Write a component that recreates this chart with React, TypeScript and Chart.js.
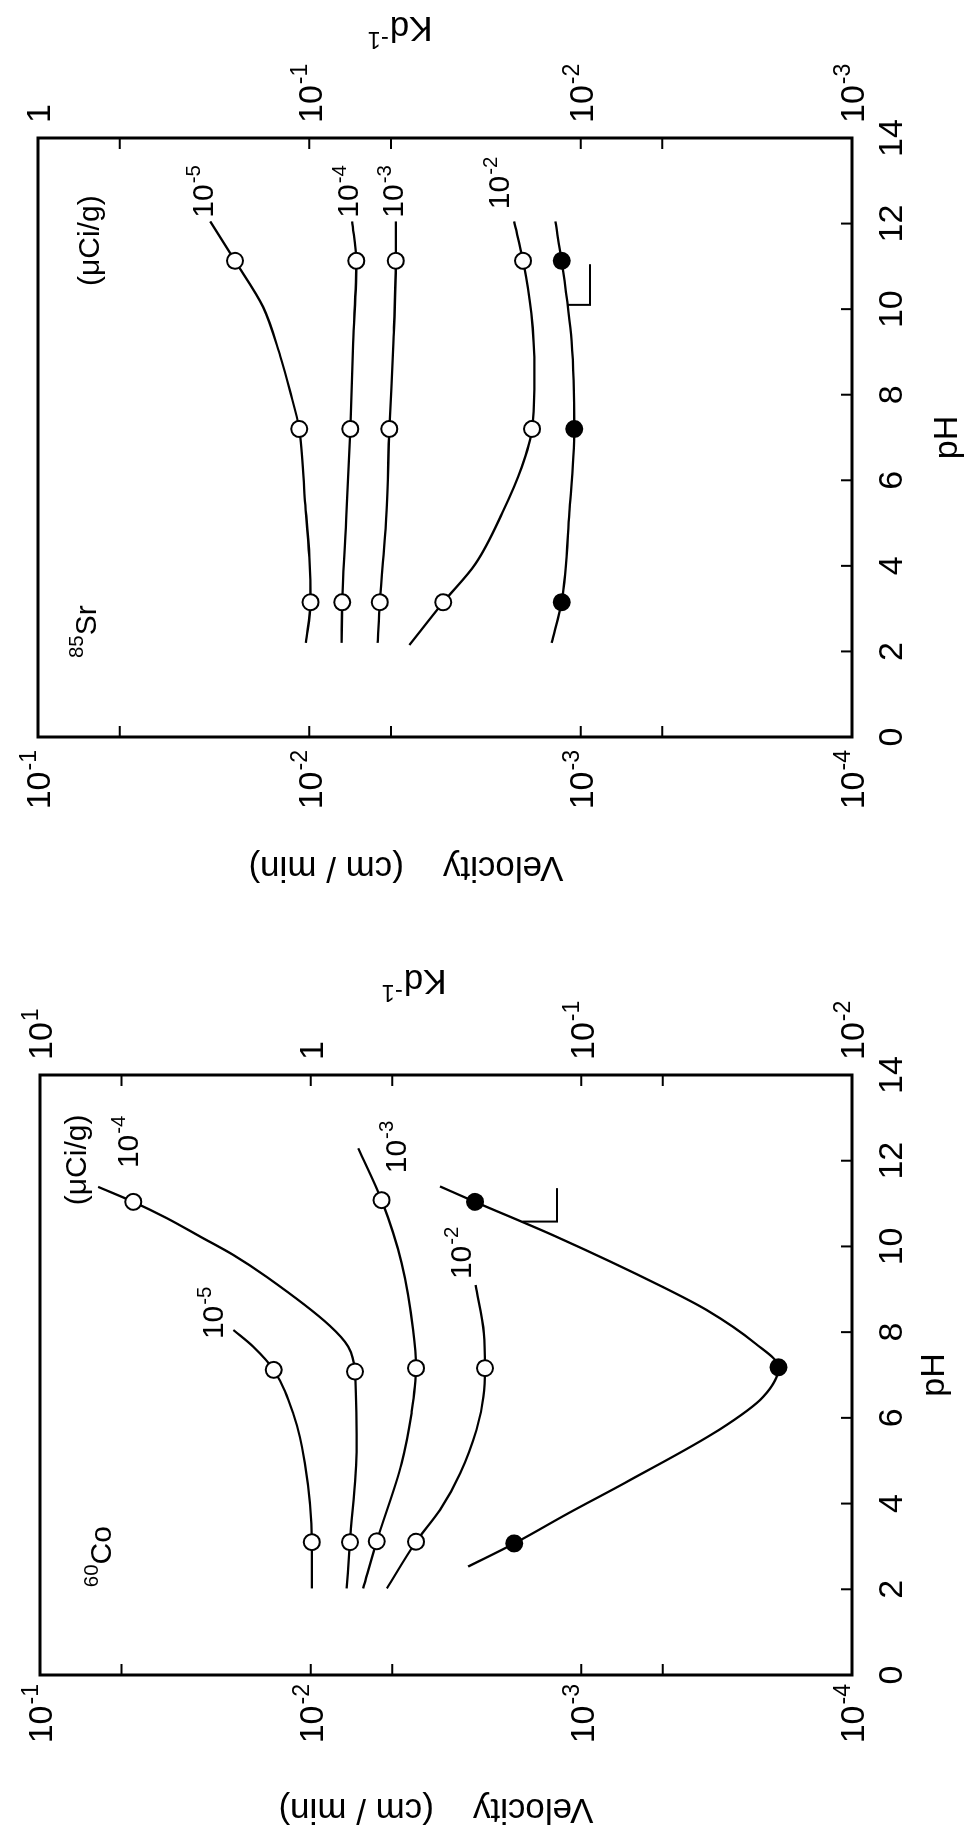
import React, { useEffect, useRef } from 'react';
import { Chart, registerables } from 'chart.js';
Chart.register(...registerables);

const FONT = '"Liberation Sans", Arial, Helvetica, sans-serif';

// ---------- axis ticks ----------
const PH_TICKS = [0, 2, 4, 6, 8, 10, 12, 14];
const VEL_TICKS = [1e-4, 5e-4, 1e-3, 5e-3, 1e-2, 5e-2, 1e-1];
const VEL_LABELS = [1e-4, 1e-3, 1e-2, 1e-1];
const SR_KD_TICKS = [1e-3, 5e-3, 1e-2, 5e-2, 1e-1, 5e-1, 1];
const SR_KD_LABELS = [1e-3, 1e-2, 1e-1, 1];
const CO_KD_TICKS = [1e-2, 5e-2, 1e-1, 5e-1, 1, 5, 10];
const CO_KD_LABELS = [1e-2, 1e-1, 1, 10];

// ---------- 85Sr panel (velocity, cm/min) ----------
const SR_E5_PH = [2.2, 3.15, 4.2, 5.6, 7.2, 8.1, 8.9, 10.05, 11.13, 12.05];
const SR_E5_V = [0.0103, 0.0099, 0.0100, 0.0104, 0.0109, 0.0118, 0.0128, 0.0148, 0.0188, 0.0232];
const SR_E5_MARK_PH = [3.15, 7.2, 11.13];
const SR_E5_MARK_V = [0.0099, 0.0109, 0.0188];

const SR_E4_PH = [2.2, 3.15, 5.2, 7.2, 9.2, 11.13, 12.05];
const SR_E4_V = [0.0076, 0.00757, 0.0073, 0.00706, 0.0069, 0.00671, 0.00695];
const SR_E4_MARK_PH = [3.15, 7.2, 11.13];
const SR_E4_MARK_V = [0.00757, 0.00706, 0.00671];

const SR_E3_PH = [2.2, 3.15, 5.2, 7.2, 9.2, 11.13, 12.05];
const SR_E3_V = [0.0056, 0.0055, 0.0052, 0.00507, 0.0049, 0.0048, 0.0048];
const SR_E3_MARK_PH = [3.15, 7.2, 11.13];
const SR_E3_MARK_V = [0.0055, 0.00507, 0.0048];

const SR_E2_PH = [2.15, 3.15, 4.05, 5.25, 6.3, 7.2, 8.55, 9.9, 11.13, 12.05];
const SR_E2_V = [0.00428, 0.00321, 0.00244, 0.00194, 0.00165, 0.00151, 0.00148, 0.00152, 0.00163, 0.00176];
const SR_E2_MARK_PH = [3.15, 7.2, 11.13];
const SR_E2_MARK_V = [0.00321, 0.00151, 0.00163];

// filled curve, read on the Kd^-1 axis
const SR_KDINV_PH = [2.2, 3.15, 5.25, 7.2, 9.25, 11.13, 12.05];
const SR_KDINV = [0.0128, 0.01175, 0.011, 0.01056, 0.0108, 0.01175, 0.0124];
const SR_KDINV_MARK_PH = [3.15, 7.2, 11.13];
const SR_KDINV_MARK = [0.01175, 0.01056, 0.01175];
const SR_POINTER_PH = [10.1, 10.1, 11.05];
const SR_POINTER_KD = [0.0112, 0.00923, 0.00923];

// ---------- 60Co panel (velocity, cm/min) ----------
const CO_E5_PH = [2.02, 3.1, 4.94, 6.1, 7.12, 7.66, 8.05];
const CO_E5_V = [0.0099, 0.0099, 0.0105, 0.0116, 0.0137, 0.0163, 0.0193];
const CO_E5_MARK_PH = [3.1, 7.12];
const CO_E5_MARK_V = [0.0099, 0.0137];

const CO_E4_PH = [2.02, 3.1, 5.33, 7.08, 7.66, 8.15, 9.29, 9.8, 10.23, 10.66, 11.04, 11.39];
const CO_E4_V = [0.00736, 0.00716, 0.00676, 0.00686, 0.00726, 0.0085, 0.01455, 0.0193, 0.0256, 0.034, 0.0452, 0.061];
const CO_E4_MARK_PH = [3.1, 7.08, 11.04];
const CO_E4_MARK_V = [0.00716, 0.00686, 0.0452];

const CO_E3_PH = [2.02, 3.12, 4.94, 6.11, 7.16, 8.05, 9.61, 11.08, 12.29];
const CO_E3_V = [0.0064, 0.0057, 0.00461, 0.00424, 0.00408, 0.00418, 0.00461, 0.00547, 0.00667];
const CO_E3_MARK_PH = [3.12, 7.16, 11.08];
const CO_E3_MARK_V = [0.0057, 0.00408, 0.00547];

const CO_E2_PH = [2.02, 3.11, 3.85, 4.71, 5.72, 6.49, 7.16, 7.97, 9.1];
const CO_E2_V = [0.00523, 0.00408, 0.00333, 0.0028, 0.00244, 0.0023, 0.00227, 0.00229, 0.00246];
const CO_E2_MARK_PH = [3.11, 7.16];
const CO_E2_MARK_V = [0.00408, 0.00227];

const CO_KDINV_PH = [2.53, 3.07, 3.77, 4.55, 5.72, 6.49, 7.18, 7.74, 8.52, 9.06, 10.23, 11.04, 11.4];
const CO_KDINV = [0.262, 0.177, 0.112, 0.066, 0.031, 0.0213, 0.0187, 0.0228, 0.0345, 0.0502, 0.124, 0.247, 0.333];
const CO_KDINV_MARK_PH = [3.07, 7.18, 11.04];
const CO_KDINV_MARK = [0.177, 0.0187, 0.247];
const CO_POINTER_PH = [10.58, 10.58, 11.36];
const CO_POINTER_KD = [0.165, 0.123, 0.123];

// ---------- text annotations (pH, velocity) ----------
type Part = { t: string; sup?: boolean };
const SR_NOTES: { parts: Part[]; pH: number; v: number }[] = [
  { parts: [{ t: '(μCi/g)' }], pH: 11.6, v: 0.0654 },
  { parts: [{ t: '10' }, { t: '-5', sup: true }], pH: 12.75, v: 0.0248 },
  { parts: [{ t: '10' }, { t: '-4', sup: true }], pH: 12.75, v: 0.00724 },
  { parts: [{ t: '10' }, { t: '-3', sup: true }], pH: 12.75, v: 0.00494 },
  { parts: [{ t: '10' }, { t: '-2', sup: true }], pH: 12.95, v: 0.00201 },
  { parts: [{ t: '85', sup: true }, { t: 'Sr' }], pH: 2.45, v: 0.0671 },
];
const CO_NOTES: { parts: Part[]; pH: number; v: number }[] = [
  { parts: [{ t: '(μCi/g)' }], pH: 12.02, v: 0.0743 },
  { parts: [{ t: '10' }, { t: '-4', sup: true }], pH: 12.44, v: 0.0478 },
  { parts: [{ t: '10' }, { t: '-5', sup: true }], pH: 8.45, v: 0.023 },
  { parts: [{ t: '10' }, { t: '-3', sup: true }], pH: 12.32, v: 0.00489 },
  { parts: [{ t: '10' }, { t: '-2', sup: true }], pH: 9.85, v: 0.0028 },
  { parts: [{ t: '60', sup: true }, { t: 'Co' }], pH: 2.75, v: 0.06 },
];

function drawParts(ctx: CanvasRenderingContext2D, parts: Part[], x: number, y: number, size: number, align: 'left' | 'center' | 'right') {
  const supSize = size * 0.68;
  const widths = parts.map((p) => {
    ctx.font = `${p.sup ? supSize : size}px ${FONT}`;
    return ctx.measureText(p.t).width + (p.sup ? 1 : 0);
  });
  const total = widths.reduce((a, b) => a + b, 0);
  let cx = align === 'center' ? x - total / 2 : align === 'right' ? x - total : x;
  const base = y + size * 0.358;
  ctx.textAlign = 'left';
  ctx.textBaseline = 'alphabetic';
  parts.forEach((p, i) => {
    ctx.font = `${p.sup ? supSize : size}px ${FONT}`;
    ctx.fillText(p.t, cx + (p.sup ? 1 : 0), p.sup ? base - size * 0.42 : base);
    cx += widths[i];
  });
}

function logLabel(val: number): Part[] {
  const e = Math.round(Math.log10(val));
  if (e === 0) return [{ t: '1' }];
  return [{ t: '10' }, { t: String(e), sup: true }];
}

function pts(xs: number[], ys: number[]) {
  return xs.map((x, i) => ({ x, y: ys[i] }));
}

type PanelCfg = {
  cssTop: number;
  leftW: number;
  rightW: number;
  padTop: number;
  kdFactor: number;
  kdTicks: number[];
  kdLabels: number[];
  velPad: number;
  kdPad: number;
  velTitle: [number, number];
  kdTitle: [number, number];
  phTitleV: number;
  curves: { ph: number[]; v: number[]; mph: number[]; mv: number[]; kd: boolean }[];
  pointer: { ph: number[]; kd: number[] };
  notes: { parts: Part[]; pH: number; v: number }[];
};

const W = 915;
const H = 977;

const SR_CFG: PanelCfg = {
  cssTop: 915,
  leftW: 178,
  rightW: 138,
  padTop: 38,
  kdFactor: 10,
  kdTicks: SR_KD_TICKS,
  kdLabels: SR_KD_LABELS,
  velPad: 13,
  kdPad: 15,
  velTitle: [45, 406],
  kdTitle: [885, 400],
  phTitleV: 945,
  curves: [
    { ph: SR_E5_PH, v: SR_E5_V, mph: SR_E5_MARK_PH, mv: SR_E5_MARK_V, kd: false },
    { ph: SR_E4_PH, v: SR_E4_V, mph: SR_E4_MARK_PH, mv: SR_E4_MARK_V, kd: false },
    { ph: SR_E3_PH, v: SR_E3_V, mph: SR_E3_MARK_PH, mv: SR_E3_MARK_V, kd: false },
    { ph: SR_E2_PH, v: SR_E2_V, mph: SR_E2_MARK_PH, mv: SR_E2_MARK_V, kd: false },
    { ph: SR_KDINV_PH, v: SR_KDINV, mph: SR_KDINV_MARK_PH, mv: SR_KDINV_MARK, kd: true },
  ],
  pointer: { ph: SR_POINTER_PH, kd: SR_POINTER_KD },
  notes: SR_NOTES,
};

const CO_CFG: PanelCfg = {
  cssTop: 1830,
  leftW: 155,
  rightW: 160,
  padTop: 40,
  kdFactor: 100,
  kdTicks: CO_KD_TICKS,
  kdLabels: CO_KD_LABELS,
  velPad: 9,
  kdPad: 15,
  velTitle: [18, 436],
  kdTitle: [847, 414],
  phTitleV: 932,
  curves: [
    { ph: CO_E5_PH, v: CO_E5_V, mph: CO_E5_MARK_PH, mv: CO_E5_MARK_V, kd: false },
    { ph: CO_E4_PH, v: CO_E4_V, mph: CO_E4_MARK_PH, mv: CO_E4_MARK_V, kd: false },
    { ph: CO_E3_PH, v: CO_E3_V, mph: CO_E3_MARK_PH, mv: CO_E3_MARK_V, kd: false },
    { ph: CO_E2_PH, v: CO_E2_V, mph: CO_E2_MARK_PH, mv: CO_E2_MARK_V, kd: false },
    { ph: CO_KDINV_PH, v: CO_KDINV, mph: CO_KDINV_MARK_PH, mv: CO_KDINV_MARK, kd: true },
  ],
  pointer: { ph: CO_POINTER_PH, kd: CO_POINTER_KD },
  notes: CO_NOTES,
};

function Panel({ cfg }: { cfg: PanelCfg }) {
  const ref = useRef<HTMLCanvasElement>(null);
  useEffect(() => {
    if (!ref.current) return;
    const datasets: any[] = [];
    cfg.curves.forEach((c) => {
      datasets.push({
        data: pts(c.mph, c.mv),
        yAxisID: c.kd ? 'y2' : 'y',
        showLine: false,
        pointRadius: 8,
        pointStyle: 'circle',
        pointBackgroundColor: c.kd ? '#000' : '#fff',
        pointBorderColor: '#000',
        pointBorderWidth: 2,
        order: 1,
      });
      datasets.push({
        data: pts(c.ph, c.v),
        yAxisID: c.kd ? 'y2' : 'y',
        borderColor: '#000',
        borderWidth: 2.3,
        pointRadius: 0,
        fill: false,
        cubicInterpolationMode: 'monotone',
        order: 2,
      });
    });
    datasets.push({
      data: pts(cfg.pointer.ph, cfg.pointer.kd),
      yAxisID: 'y2',
      borderColor: '#000',
      borderWidth: 2,
      pointRadius: 0,
      tension: 0,
      fill: false,
      order: 2,
    });

    const decor = {
      id: 'decor',
      afterDraw(chart: any) {
        const ctx: CanvasRenderingContext2D = chart.ctx;
        const { left, right, top, bottom } = chart.chartArea;
        const xs = chart.scales.x;
        const ys = chart.scales.y;
        const y2 = chart.scales.y2;
        const TL = 11;
        ctx.save();
        ctx.strokeStyle = '#000';
        ctx.fillStyle = '#000';
        ctx.lineWidth = 3;
        ctx.strokeRect(left, top, right - left, bottom - top);
        ctx.lineWidth = 2;
        ctx.beginPath();
        VEL_TICKS.forEach((t) => {
          const p = ys.getPixelForValue(t);
          ctx.moveTo(left, p);
          ctx.lineTo(left + TL, p);
        });
        cfg.kdTicks.forEach((t) => {
          const p = y2.getPixelForValue(t);
          ctx.moveTo(right, p);
          ctx.lineTo(right - TL, p);
        });
        PH_TICKS.forEach((t) => {
          const p = xs.getPixelForValue(t);
          ctx.moveTo(p, bottom);
          ctx.lineTo(p, bottom - TL);
        });
        ctx.stroke();

        VEL_LABELS.forEach((t) => {
          drawParts(ctx, logLabel(t), left - cfg.velPad, ys.getPixelForValue(t), 34, 'right');
        });
        cfg.kdLabels.forEach((t) => {
          drawParts(ctx, logLabel(t), right + cfg.kdPad, y2.getPixelForValue(t), 34, 'left');
        });

        cfg.notes.forEach((n) => {
          drawParts(ctx, n.parts, xs.getPixelForValue(n.pH), ys.getPixelForValue(n.v), 30, 'center');
        });

        // axis titles
        ctx.save();
        ctx.translate(cfg.velTitle[0], cfg.velTitle[1]);
        ctx.rotate(-Math.PI / 2);
        drawParts(ctx, [{ t: 'Velocity    (cm / min)' }], 0, 0, 35, 'center');
        ctx.restore();

        ctx.save();
        ctx.translate(cfg.kdTitle[0], cfg.kdTitle[1]);
        ctx.rotate(-Math.PI / 2);
        drawParts(ctx, [{ t: 'Kd' }, { t: '-1', sup: true }], 0, 0, 35, 'center');
        ctx.restore();

        drawParts(ctx, [{ t: 'pH' }], (left + right) / 2, cfg.phTitleV, 34, 'center');
        ctx.restore();
      },
    };

    const chart = new Chart(ref.current, {
      type: 'line',
      data: { datasets },
      options: {
        animation: false,
        responsive: false,
        devicePixelRatio: 1,
        events: [],
        layout: { padding: { left: 0, right: 0, top: cfg.padTop, bottom: 0 } },
        plugins: { legend: { display: false }, tooltip: { enabled: false } },
        scales: {
          x: {
            type: 'linear',
            position: 'bottom',
            min: 0,
            max: 14,
            grid: { display: false },
            border: { display: false },
            ticks: {
              stepSize: 2,
              autoSkip: false,
              maxRotation: 0,
              color: '#000',
              padding: 12,
              font: { family: FONT, size: 34 },
            },
            afterFit: (s: any) => {
              s.height = H - 852;
            },
          },
          y: {
            type: 'logarithmic',
            position: 'left',
            min: 1e-4,
            max: 1e-1,
            grid: { display: false },
            border: { display: false },
            ticks: { display: false },
            afterFit: (s: any) => {
              s.width = cfg.leftW;
            },
          },
          y2: {
            type: 'logarithmic',
            position: 'right',
            min: 1e-4 * cfg.kdFactor,
            max: 1e-1 * cfg.kdFactor,
            grid: { display: false },
            border: { display: false },
            ticks: { display: false },
            afterFit: (s: any) => {
              s.width = cfg.rightW;
            },
          },
        },
      } as any,
      plugins: [decor],
    });
    return () => chart.destroy();
  }, [cfg]);

  return (
    <canvas
      ref={ref}
      width={W}
      height={H}
      style={{
        position: 'absolute',
        left: 0,
        top: cfg.cssTop,
        width: W,
        height: H,
        transformOrigin: '0 0',
        transform: 'rotate(-90deg)',
      }}
    />
  );
}

export default function App() {
  return (
    <div
      style={{
        position: 'absolute',
        left: 0,
        top: 0,
        width: 977,
        height: 1830,
        overflow: 'hidden',
        background: '#fff',
      }}
    >
      <Panel cfg={SR_CFG} />
      <Panel cfg={CO_CFG} />
    </div>
  );
}
